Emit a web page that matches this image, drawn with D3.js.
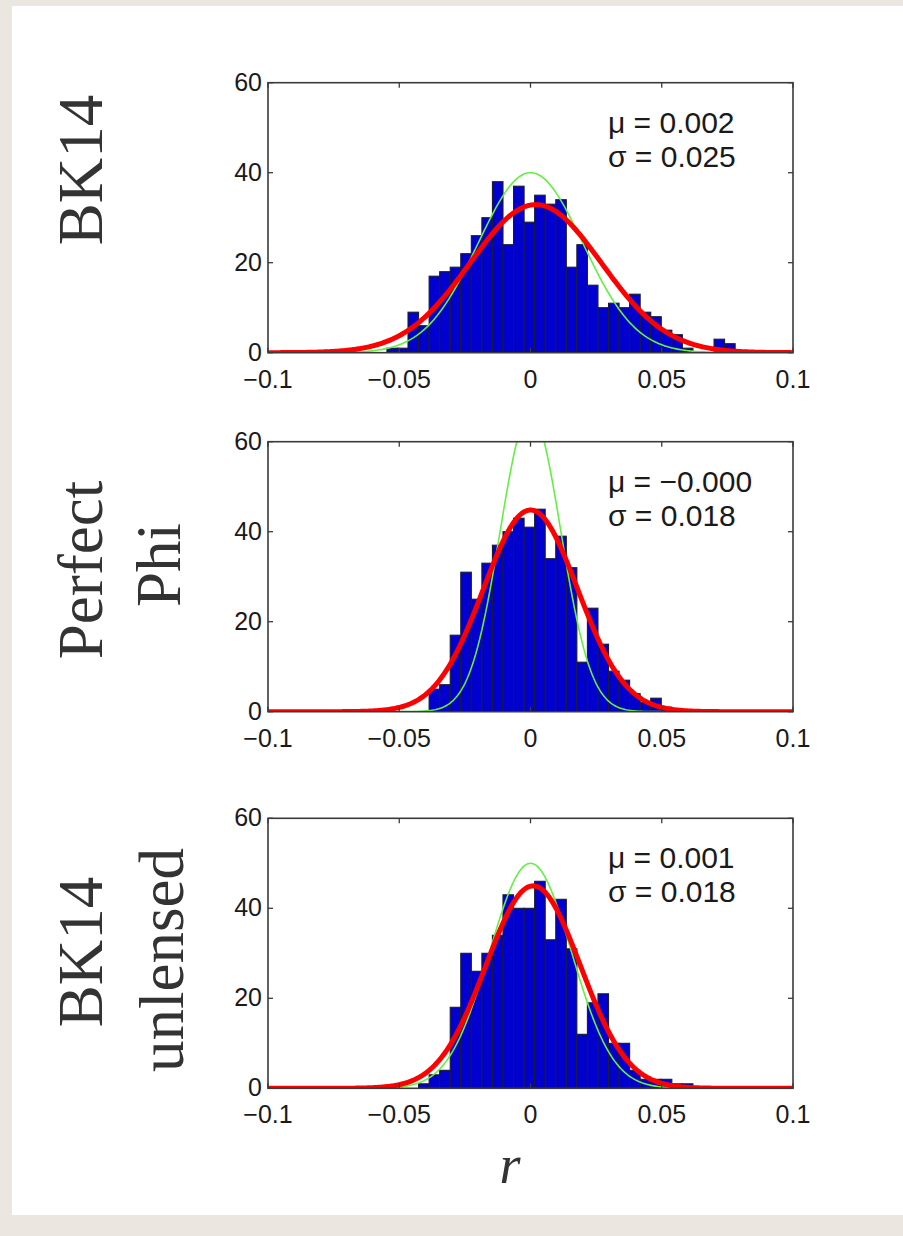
<!DOCTYPE html>
<html><head><meta charset="utf-8">
<script src="https://cdn.jsdelivr.net/npm/d3@7"></script>
<style>
html,body{margin:0;padding:0;background:#ebe7e0;}
svg{display:block;}
</style></head>
<body>
<svg id="chart" width="903" height="1236"></svg>
<script>
// ---------- data ----------
const panelNames = ["BK14", "Perfect Phi", "BK14 unlensed"];
const rowLabelLines = [["BK14"], ["Perfect", "Phi"], ["BK14", "unlensed"]];
const binEdge0 = -0.0547;     // left edge of first bin
const binWidth = 0.00402;
const counts1 = [1,1,9,6,17,18,19,22,26,30,38,24,37,29,35,33,34,19,24,15,10,11,10,13,9,8,5,4,1,0,0,3,2];
const counts2 = [0,0,0,0,5,6,17,31,25,33,37,40,43,41,45,34,39,32,11,23,15,9,7,4,2,3,1];
const counts3 = [0,0,0,1,3,4,18,30,26,30,34,43,40,40,46,33,42,31,12,19,21,10,10,4,2,2,2,1,1];
const fitMu    = [0.002, -0.000, 0.001];
const fitSigma = [0.025, 0.018, 0.018];
const fitLabelMu    = ["0.002", "\u22120.000", "0.001"];
const fitLabelSigma = ["0.025", "0.018", "0.018"];
const expMu    = [0, 0, 0];
const expSigma = [0.0200, 0.0115, 0.0156];
const expPeak  = [40, 66.5, 50];
const xTicks = [-0.1, -0.05, 0, 0.05, 0.1];
const xTickLabels = ["\u22120.1", "\u22120.05", "0", "0.05", "0.1"];
const yTicks = [0, 20, 40, 60];
const yTickLabels = ["0", "20", "40", "60"];
const xAxisTitle = "r";

// ---------- layout ----------
const svg = d3.select("#chart");
svg.append("rect").attr("x", 12).attr("y", 6).attr("width", 891).attr("height", 1209).attr("fill", "#ffffff");

const L = 268, R = 793, H = 270;
const tops = [82.7, 441.7, 818.3];
const labelBaseX = [[102], [102, 180], [102, 183]];
const labelCenterY = [[170], [570, 565], [952, 960]];
const allCounts = [counts1, counts2, counts3];

const x = d3.scaleLinear().domain([-0.1, 0.1]).range([L, R]);
const gauss = (v, m, s) => Math.exp(-((v - m) * (v - m)) / (2 * s * s));
const samples = d3.range(-0.1, 0.10001, 0.0005);
const tickFont = "Liberation Sans, Arial, sans-serif";

allCounts.forEach((counts, p) => {
  const top = tops[p];
  const y = d3.scaleLinear().domain([0, 60]).range([top + H, top]);
  const g = svg.append("g");
  const clipId = "clip" + p;
  g.append("clipPath").attr("id", clipId).append("rect")
    .attr("x", L).attr("y", top).attr("width", R - L).attr("height", H);

  const plot = g.append("g").attr("clip-path", `url(#${clipId})`);
  const bins = counts.map((c, i) => ({x0: binEdge0 + i * binWidth, x1: binEdge0 + (i + 1) * binWidth, c}))
    .filter(d => d.c > 0);
  plot.selectAll("rect.bar").data(bins).join("rect").attr("class", "bar")
    .attr("x", d => x(d.x0)).attr("width", d => x(d.x1) - x(d.x0))
    .attr("y", d => y(d.c)).attr("height", d => y(0) - y(d.c))
    .attr("fill", "#0000cf").attr("stroke", "#1c1c30").attr("stroke-width", 1.1);

  const total = d3.sum(counts);
  const fitPeak = total * binWidth / (fitSigma[p] * Math.sqrt(2 * Math.PI));
  const line = d3.line().x(d => x(d[0])).y(d => y(d[1]));
  plot.append("path")
    .attr("d", line(samples.map(v => [v, expPeak[p] * gauss(v, expMu[p], expSigma[p])])))
    .attr("fill", "none").attr("stroke", "#66ee44").attr("stroke-width", 1.6);
  plot.append("path")
    .attr("d", line(samples.map(v => [v, fitPeak * gauss(v, fitMu[p], fitSigma[p])])))
    .attr("fill", "none").attr("stroke", "#ff0000").attr("stroke-width", 5).attr("stroke-linejoin", "round");

  g.append("rect").attr("x", L).attr("y", top).attr("width", R - L).attr("height", H)
    .attr("fill", "none").attr("stroke", "#3a3a3a").attr("stroke-width", 1.6);

  const tk = 5;
  xTicks.forEach(t => {
    g.append("line").attr("x1", x(t)).attr("x2", x(t)).attr("y1", top + H).attr("y2", top + H - tk).attr("stroke", "#3a3a3a").attr("stroke-width", 1.3);
    g.append("line").attr("x1", x(t)).attr("x2", x(t)).attr("y1", top).attr("y2", top + tk).attr("stroke", "#3a3a3a").attr("stroke-width", 1.3);
  });
  yTicks.forEach(t => {
    g.append("line").attr("x1", L).attr("x2", L + tk).attr("y1", y(t)).attr("y2", y(t)).attr("stroke", "#3a3a3a").attr("stroke-width", 1.3);
    g.append("line").attr("x1", R).attr("x2", R - tk).attr("y1", y(t)).attr("y2", y(t)).attr("stroke", "#3a3a3a").attr("stroke-width", 1.3);
  });

  g.selectAll("text.xt").data(xTicks).join("text").attr("class", "xt")
    .attr("x", d => x(d)).attr("y", top + H + 35)
    .attr("text-anchor", "middle").attr("font-family", tickFont).attr("font-size", 25).attr("fill", "#1a1a1a")
    .text((d, i) => xTickLabels[i]);
  g.selectAll("text.yt").data(yTicks).join("text").attr("class", "yt")
    .attr("x", L - 6).attr("y", d => y(d) + 8)
    .attr("text-anchor", "end").attr("font-family", tickFont).attr("font-size", 25).attr("fill", "#1a1a1a")
    .text((d, i) => yTickLabels[i]);

  g.append("text").attr("x", 608).attr("y", top + 50).attr("font-family", tickFont).attr("font-size", 30).attr("fill", "#1a1a1a")
    .text("\u03bc = " + fitLabelMu[p]);
  g.append("text").attr("x", 608).attr("y", top + 84).attr("font-family", tickFont).attr("font-size", 30).attr("fill", "#1a1a1a")
    .text("\u03c3 = " + fitLabelSigma[p]);

  rowLabelLines[p].forEach((txt, k) => {
    svg.append("text")
      .attr("transform", `translate(${labelBaseX[p][k]},${labelCenterY[p][k]}) rotate(-90)`)
      .attr("text-anchor", "middle")
      .attr("font-family", "Liberation Serif, serif").attr("font-size", 63).attr("fill", "#333")
      .text(txt);
  });
});

svg.append("text").attr("x", 510).attr("y", 1183).attr("text-anchor", "middle")
  .attr("font-family", "Liberation Serif, serif").attr("font-style", "italic").attr("font-size", 54).attr("fill", "#333")
  .text(xAxisTitle);
</script>
</body></html>
